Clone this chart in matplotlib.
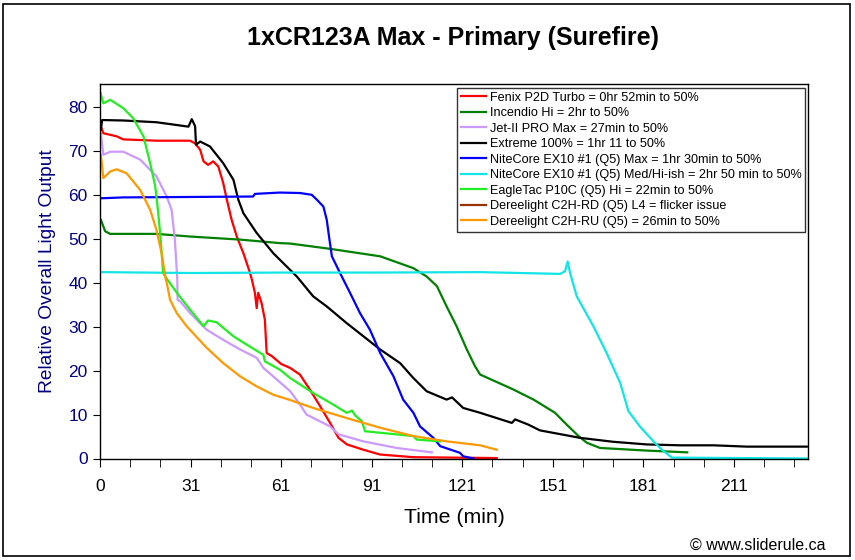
import matplotlib
matplotlib.use("Agg")
import matplotlib.pyplot as plt
from matplotlib.patches import Rectangle

plt.rcParams['font.family'] = ['Liberation Sans', 'DejaVu Sans']

# ---------------- data (time in min, relative output) ----------------
names = [
    "Fenix P2D Turbo = 0hr 52min to 50%",
    "Incendio Hi = 2hr to 50%",
    "Jet-II PRO Max = 27min to 50%",
    "Extreme 100% = 1hr 11 to 50%",
    "NiteCore EX10 #1 (Q5) Max = 1hr 30min to 50%",
    "NiteCore EX10 #1 (Q5) Med/Hi-ish = 2hr 50 min to 50%",
    "EagleTac P10C (Q5) Hi = 22min to 50%",
    "Dereelight C2H-RD (Q5) L4 = flicker issue",
    "Dereelight C2H-RU (Q5) = 26min to 50%",
]
colors = ["#FF0000", "#008000", "#CC99FF", "#000000", "#0000FF",
          "#11E5E5", "#22EE22", "#993300", "#FF9900"]

fenix_t = [0.3, 1.1, 5.5, 7.7, 18.7, 29.8, 31.5, 33.2, 34.3, 35.8, 37.5, 39.2, 40.8, 42.0,
           43.6, 45.3, 47.5, 49.7, 50.3, 51.3, 51.9, 52.4, 53.5, 54.6, 55.2, 56.9, 60.0,
           63.0, 66.2, 69.5, 72.9, 76.2, 79.0, 81.8, 87.2, 92.8, 103.8, 131.4]
fenix_y = [75.5, 74.0, 73.3, 72.6, 72.3, 72.3, 71.7, 70.2, 67.6, 66.8, 67.6, 66.4, 62.7, 58.9,
           54.3, 50.5, 46.7, 42.2, 40.7, 37.7, 34.2, 37.7, 35.4, 31.6, 24.0, 23.3, 21.5,
           20.6, 19.1, 15.7, 11.9, 8.1, 4.7, 3.2, 2.0, 0.9, 0.3, 0.1]

incendio_t = [0.3, 1.7, 3.4, 18.7, 29.8, 46.4, 59.6, 63.0, 76.2, 92.8, 103.8, 108.2, 111.6,
              114.8, 118.1, 121.5, 124.2, 125.9, 136.9, 143.6, 150.7, 154.6, 158.5, 161.2,
              165.6, 181.1, 194.5]
incendio_y = [54.3, 51.7, 51.1, 51.1, 50.5, 49.8, 49.0, 48.9, 47.7, 46.0, 43.3, 41.4, 39.2,
              34.6, 30.1, 24.8, 21.0, 19.1, 15.7, 13.4, 10.4, 7.7, 5.1, 3.6,
              2.4, 1.8, 1.4]

jet_t = [0.3, 1.1, 3.4, 7.7, 13.3, 18.7, 22.1, 23.7, 24.8, 25.6, 25.7, 26.5, 29.8, 35.3,
         40.8, 46.4, 51.9, 54.1, 58.5, 63.0, 66.2, 68.4, 76.2, 79.0, 87.2, 98.2, 109.9]
jet_y = [74.0, 69.1, 69.8, 69.8, 68.0, 64.2, 59.6, 56.6, 49.8, 40.7, 36.1, 35.8, 33.1, 29.3,
         27.0, 24.8, 22.9, 20.6, 18.0, 15.3, 12.3, 10.0, 7.3, 5.5, 3.9, 2.4, 1.4]

extreme_t = [0.3, 0.7, 7.7, 18.7, 29.3, 30.4, 31.5, 31.8, 33.2, 36.4, 40.8, 44.2, 45.8, 47.5,
             51.9, 57.4, 59.6, 65.2, 70.6, 75.1, 81.7, 92.8, 99.4, 103.8, 108.2, 114.8,
             116.6, 120.3, 125.9, 136.4, 137.5, 141.9, 145.7, 159.0, 170.0, 181.1, 192.1,
             203.2, 214.2, 234.1]
extreme_y = [74.8, 77.0, 76.9, 76.5, 75.5, 77.2, 75.6, 71.4, 72.1, 71.0, 67.2, 63.4, 58.9, 55.8,
             51.3, 46.7, 45.2, 41.4, 36.9, 34.6, 30.8, 24.8, 21.7, 18.3, 15.3, 13.4,
             13.9, 11.5, 10.4, 8.1, 8.9, 7.7, 6.4, 4.7, 3.8, 3.2, 3.0,
             3.0, 2.7, 2.7]

ex10max_t = [0.3, 7.7, 30.0, 50.7, 51.3, 59.6, 66.2, 70.1, 71.8, 74.0, 75.1, 76.0, 76.8, 79.5,
             82.8, 86.1, 89.4, 92.8, 97.2, 100.4, 103.8, 106.0, 110.4, 112.7, 119.2, 120.3,
             123.7]
ex10max_y = [59.2, 59.4, 59.5, 59.6, 60.2, 60.5, 60.4, 60.0, 58.9, 57.3, 54.3, 49.8, 46.0, 42.2,
             37.7, 33.1, 29.3, 24.0, 18.7, 13.4, 10.4, 7.3, 4.7, 2.8, 1.3, 0.5,
             0.0]

ex10med_t = [0.3, 30.0, 60.0, 90.0, 125.9, 152.4, 154.0, 154.9, 155.7, 157.9, 163.4, 167.8,
             172.3, 175.0, 178.8, 183.3, 186.1, 189.4, 234.5]
ex10med_y = [42.4, 42.2, 42.3, 42.3, 42.4, 42.0, 42.6, 44.8, 42.2, 36.9, 30.1, 24.0,
             17.2, 10.8, 7.3, 3.9, 2.0, 0.2, 0.0]

eagle_t = [0.2, 1.1, 3.4, 7.7, 11.0, 14.4, 16.6, 18.3, 19.3, 20.1, 20.9, 22.3, 25.9, 29.8,
           34.3, 35.8, 38.6, 44.2, 48.6, 54.1, 54.6, 59.6, 63.0, 70.6, 76.2, 81.7, 83.5,
           84.5, 86.7, 87.8, 103.8, 104.9, 112.7]
eagle_y = [83.1, 80.8, 81.6, 79.7, 77.4, 73.3, 67.2, 61.9, 55.8, 49.8, 42.2, 40.7, 37.3, 33.9,
           30.1, 31.4, 31.0, 27.8, 25.9, 23.6, 22.1, 20.2, 18.3, 14.9, 12.7, 10.4, 10.9,
           9.8, 8.5, 6.2, 5.1, 4.3, 3.9]

c2hrd_t = []
c2hrd_y = []

c2hru_t = [0.3, 1.1, 3.4, 5.5, 8.8, 13.3, 16.6, 18.7, 20.4, 21.8, 22.1, 23.2, 25.4, 28.7,
           35.3, 40.8, 46.4, 51.9, 57.4, 63.0, 70.6, 81.7, 92.8, 103.8, 114.8, 125.9, 131.4]
c2hru_y = [69.1, 63.8, 65.3, 65.8, 64.9, 61.1, 56.6, 52.0, 46.7, 40.7, 40.0, 36.1, 33.1, 30.1,
           25.2, 21.7, 18.7, 16.4, 14.5, 13.3, 11.5, 9.2, 7.0, 5.1, 3.9, 3.0, 2.0]

series_t = [fenix_t, incendio_t, jet_t, extreme_t, ex10max_t, ex10med_t, eagle_t, c2hrd_t, c2hru_t]
series_y = [fenix_y, incendio_y, jet_y, extreme_y, ex10max_y, ex10med_y, eagle_y, c2hrd_y, c2hru_y]

xtick_pos = [0, 30, 60, 90, 120, 150, 180, 210]
xtick_lab = ["0", "31", "61", "91", "121", "151", "181", "211"]
ytick_pos = [0, 10, 20, 30, 40, 50, 60, 70, 80]

# ---------------- plot ----------------
fig = plt.figure(figsize=(8.55, 5.6), dpi=100)
ax = fig.add_axes([100 / 855, 1 - 458.5 / 560, 708 / 855, 374.5 / 560])

for t, y, c, n in zip(series_t, series_y, colors, names):
    ax.plot(t, y, color=c, lw=1.6, label=n)

ax.set_xlim(0, 234.5)
ax.set_ylim(0, 85.2)
ax.set_xticks(xtick_pos)
ax.set_xticklabels(xtick_lab)
ax.set_xticks(range(0, 235, 10), minor=True)
ax.set_yticks(ytick_pos)
ax.tick_params(axis='x', which='both', direction='out', length=6, labelsize=12.5,
               labelcolor='black', pad=9)
ax.tick_params(axis='y', direction='out', length=5, labelsize=12.5,
               labelcolor='#000080', pad=4)
for s in ax.spines.values():
    s.set_color('black')
    s.set_linewidth(1.0)

ax.set_xlabel("Time (min)", fontsize=15.3, labelpad=10)
ax.set_ylabel("Relative Overall Light Output", fontsize=13.8, color='#000080', labelpad=9)
fig.text(0.53, 0.932, "1xCR123A Max - Primary (Surefire)", ha='center', va='center',
         fontsize=18, fontweight='bold')

leg = ax.legend(loc='upper right', bbox_to_anchor=(0.996, 0.99), borderaxespad=0,
                fontsize=9.1, frameon=True, fancybox=False, handlelength=2.0,
                handletextpad=0.3, labelspacing=0.28, borderpad=0.3)
leg.get_frame().set_edgecolor('black')
leg.get_frame().set_linewidth(1.0)

fig.text(0.965, 0.027, "© www.sliderule.ca", ha='right', va='center', fontsize=11.5)

fig.patches.append(Rectangle((3 / 855, 4 / 560), 847 / 855, 552 / 560, transform=fig.transFigure,
                             fill=False, edgecolor='black', lw=1.2))

fig.savefig("out.png", dpi=100)
